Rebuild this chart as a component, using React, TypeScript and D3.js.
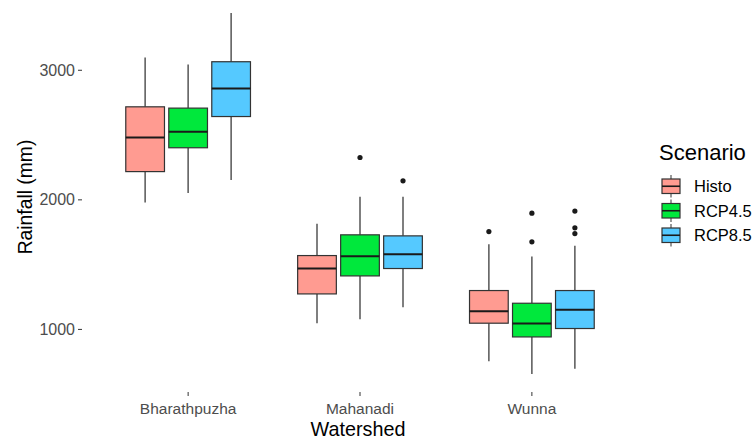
import React from 'react'
import * as d3 from 'd3'

// watershed categories and scenarios
const watersheds = ['Bharathpuzha', 'Mahanadi', 'Wunna']
const scenarios = ['Histo', 'RCP4.5', 'RCP8.5']
const scenarioColors = ['#FF9B91', '#00E83C', '#55C9FF']

// box stats per scenario, one entry per watershed: [lower whisker, q1, median, q3, upper whisker]
const histoStats = [
    [1979, 2218, 2481, 2718, 3099],
    [1048, 1274, 1470, 1570, 1815],
    [755, 1048, 1140, 1300, 1658],
]
const rcp45Stats = [
    [2052, 2402, 2525, 2708, 3045],
    [1079, 1413, 1565, 1730, 2023],
    [656, 942, 1045, 1202, 1562],
]
const rcp85Stats = [
    [2154, 2643, 2860, 3066, 3442],
    [1171, 1470, 1580, 1722, 2023],
    [697, 1007, 1151, 1300, 1645],
]

// outliers per scenario, one list per watershed
const histoOutliers = [[], [], [1755]]
const rcp45Outliers = [[], [2327], [1897, 1676]]
const rcp85Outliers = [[], [2147], [1913, 1784, 1740]]

const yTicks = [1000, 2000, 3000]

const FONT = '"Liberation Sans", Arial, sans-serif'

export default function App() {
    const width = 753
    const height = 441
    const panelLeft = 82
    const panelBottom = 392

    const x = d3.scalePoint().domain(watersheds).range([85, 635]).padding(0.6)
    const dodge = d3.scaleBand().domain(scenarios).range([-64.5, 64.5])
    const y = d3.scaleLinear().domain([517, 3581]).range([panelBottom, -5])
    const boxW = dodge.bandwidth() * 0.9

    const allStats = [histoStats, rcp45Stats, rcp85Stats]
    const allOutliers = [histoOutliers, rcp45Outliers, rcp85Outliers]

    const boxes = []
    scenarios.forEach((s, si) => {
        watersheds.forEach((w, wi) => {
            const [lo, q1, med, q3, hi] = allStats[si][wi]
            const cx = x(w) + dodge(s) + dodge.bandwidth() / 2
            boxes.push(
                <g key={s + w}>
                    <line x1={cx} x2={cx} y1={y(hi)} y2={y(q3)} stroke="#555" strokeWidth={1.5} />
                    <line x1={cx} x2={cx} y1={y(q1)} y2={y(lo)} stroke="#555" strokeWidth={1.5} />
                    <rect x={cx - boxW / 2} y={y(q3)} width={boxW} height={y(q1) - y(q3)}
                        fill={scenarioColors[si]} stroke="#333" strokeWidth={1.2} />
                    <line x1={cx - boxW / 2} x2={cx + boxW / 2} y1={y(med)} y2={y(med)} stroke="#1a1a1a" strokeWidth={2} />
                    {allOutliers[si][wi].map((o, oi) => (
                        <circle key={oi} cx={cx} cy={y(o)} r={2.6} fill="#1a1a1a" />
                    ))}
                </g>
            )
        })
    })

    const legendX = 662
    const legendY = 174
    const keyH = 24.5
    const keyW = 18

    return (
        <svg width={width} height={height} style={{ position: 'absolute', left: 0, top: 0, background: '#fff' }}>
            <rect x={0} y={0} width={width} height={height} fill="#fff" />
            {/* y axis */}
            {yTicks.map(t => (
                <g key={t}>
                    <line x1={panelLeft - 4} x2={panelLeft} y1={y(t)} y2={y(t)} stroke="#333" strokeWidth={1} />
                    <text x={panelLeft - 7} y={y(t)} dy="0.35em" textAnchor="end" fontSize={16}
                        fontFamily={FONT} fill="#4D4D4D">{t}</text>
                </g>
            ))}
            {/* x axis */}
            {watersheds.map(w => (
                <g key={w}>
                    <line x1={x(w)} x2={x(w)} y1={panelBottom} y2={panelBottom + 4} stroke="#333" strokeWidth={1} />
                    <text x={x(w)} y={414} textAnchor="middle" fontSize={15.5}
                        fontFamily={FONT} fill="#4D4D4D">{w}</text>
                </g>
            ))}
            {boxes}
            <text x={358} y={436} textAnchor="middle" fontSize={19.8} fontFamily={FONT} fill="#000">Watershed</text>
            <text transform={`translate(32, 197) rotate(-90)`} textAnchor="middle" fontSize={19.3}
                fontFamily={FONT} fill="#000">Rainfall (mm)</text>
            {/* legend */}
            <text x={659} y={160} fontSize={22} fontFamily={FONT} fill="#000">Scenario</text>
            {scenarios.map((s, si) => {
                const top = legendY + si * keyH
                const cx = legendX + keyW / 2
                return (
                    <g key={s}>
                        <line x1={cx} x2={cx} y1={top + 1} y2={top + keyH - 1} stroke="#555" strokeWidth={1.2} />
                        <rect x={legendX} y={top + 5} width={keyW} height={keyH - 10}
                            fill={scenarioColors[si]} stroke="#333" strokeWidth={1.2} />
                        <line x1={legendX} x2={legendX + keyW} y1={top + keyH / 2} y2={top + keyH / 2}
                            stroke="#1a1a1a" strokeWidth={1.6} />
                        <text x={694} y={top + keyH / 2} dy="0.36em" fontSize={16.5} fontFamily={FONT} fill="#000">{s}</text>
                    </g>
                )
            })}
        </svg>
    )
}
